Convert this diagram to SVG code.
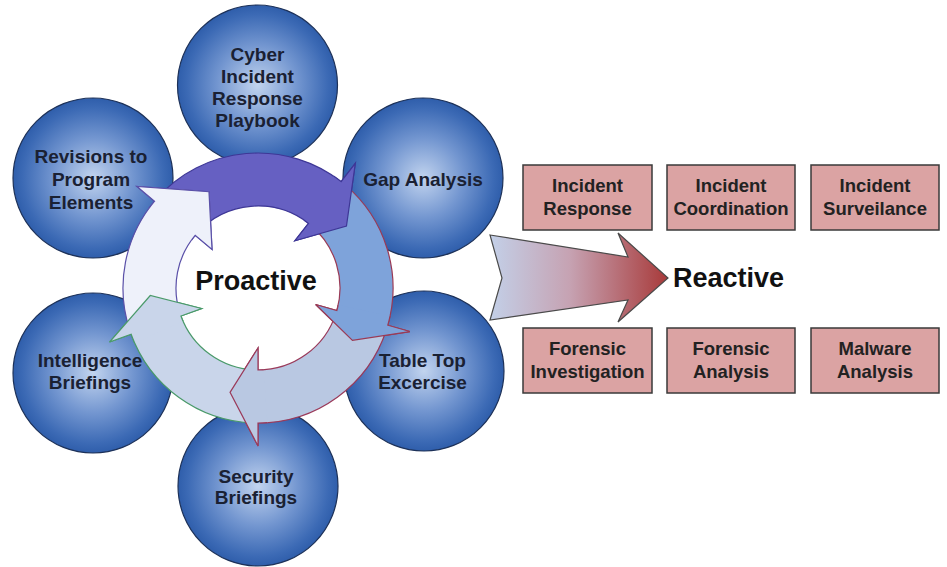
<svg xmlns="http://www.w3.org/2000/svg" width="947" height="567" viewBox="0 0 947 567">
  <defs>
    <radialGradient id="ball" cx="50%" cy="50%" r="50%">
      <stop offset="0" stop-color="#c2d4ef"/>
      <stop offset="0.5" stop-color="#7396d0"/>
      <stop offset="0.88" stop-color="#3c6ab5"/>
      <stop offset="1" stop-color="#2f5eab"/>
    </radialGradient>
    <linearGradient id="bigArrow" x1="490" y1="0" x2="668" y2="0" gradientUnits="userSpaceOnUse">
      <stop offset="0" stop-color="#c3d0e8"/>
      <stop offset="0.45" stop-color="#c6a2b2"/>
      <stop offset="1" stop-color="#a83a3a"/>
    </linearGradient>
    <style>
      .ball { fill: url(#ball); stroke: #1d3158; stroke-width: 1.2; }
      .lbl { font-family: "Liberation Sans", Arial, sans-serif; font-weight: bold; font-size: 19px; fill: #1a2133; text-anchor: middle; }
      .big { font-family: "Liberation Sans", Arial, sans-serif; font-weight: bold; font-size: 27px; fill: #111; }
      .box { fill: #dba3a3; stroke: #3a3a3a; stroke-width: 1.5; }
      .btxt { font-family: "Liberation Sans", Arial, sans-serif; font-weight: bold; font-size: 18.5px; fill: #222; text-anchor: middle; }
      .a1 { fill: #6660c2; stroke: #3e3796; stroke-width: 1.2; }
      .a2 { fill: #7ea3da; stroke: #9a3a55; stroke-width: 1.2; }
      .a3 { fill: #b9c8e2; stroke: #9a3a5a; stroke-width: 1.2; }
      .a4 { fill: #c9d5ea; stroke: #4a9a6a; stroke-width: 1.2; }
      .a5 { fill: #eef1fa; stroke: #5a50a8; stroke-width: 1.2; }
    </style>
  </defs>

  <rect width="947" height="567" fill="#ffffff"/>

  <!-- Proactive nodes -->
  <g id="node-playbook">
    <circle class="ball" cx="257.5" cy="85" r="80"/>
    <text class="lbl" x="257.5" y="61">Cyber</text>
    <text class="lbl" x="257.5" y="83">Incident</text>
    <text class="lbl" x="257.5" y="105">Response</text>
    <text class="lbl" x="257.5" y="127">Playbook</text>
  </g>
  <g id="node-gap">
    <circle class="ball" cx="423" cy="178" r="80"/>
    <text class="lbl" x="423" y="186">Gap Analysis</text>
  </g>
  <g id="node-tabletop">
    <circle class="ball" cx="424" cy="371" r="80"/>
    <text class="lbl" x="422.5" y="367">Table Top</text>
    <text class="lbl" x="422.5" y="389">Excercise</text>
  </g>
  <g id="node-security">
    <circle class="ball" cx="258" cy="486" r="80"/>
    <text class="lbl" x="256" y="483">Security</text>
    <text class="lbl" x="256" y="504">Briefings</text>
  </g>
  <g id="node-intelligence">
    <circle class="ball" cx="93" cy="373" r="80"/>
    <text class="lbl" x="90" y="367">Intelligence</text>
    <text class="lbl" x="90" y="389">Briefings</text>
  </g>
  <g id="node-revisions">
    <circle class="ball" cx="93" cy="178" r="80"/>
    <text class="lbl" x="91" y="163">Revisions to</text>
    <text class="lbl" x="91" y="186">Program</text>
    <text class="lbl" x="91" y="209">Elements</text>
  </g>

  <!-- Cycle ring of arrows -->
  <g id="connectors">
    <g id="cycle">
      <path class="a1" d="M157.68 197.67 A135 135 0 0 1 341.12 181.62 L355.28 163.5 L346.47 226.05 L294.94 240.72 L308.49 223.38 A82 82 0 0 0 197.07 233.13 Z"/>
      <path class="a2" d="M344.78 184.59 A135 135 0 0 1 387.78 325.21 L409.89 331.54 L352.46 340.36 L315.68 304.54 L336.83 310.6 A82 82 0 0 0 310.71 225.19 Z"/>
      <path class="a3" d="M386.4 329.72 A135 135 0 0 1 258 423 L258 446 L230.05 392.32 L258 348 L258 370 A82 82 0 0 0 335.99 313.34 Z"/>
      <path class="a4" d="M253.29 422.92 A135 135 0 0 1 131.14 334.17 L109.53 342.04 L150.26 295.54 L201.62 308.52 L180.94 316.04 A82 82 0 0 0 255.14 369.95 Z"/>
      <path class="a5" d="M129.6 329.72 A135 135 0 0 1 154.59 201.22 L136.97 186.44 L208.97 191.77 L212.04 249.43 L195.19 235.29 A82 82 0 0 0 180.01 313.34 Z"/>
      <!-- heads redrawn on top of the following arrow -->
      <path class="a1" d="M303.85 220.02 A82 82 0 0 1 308.49 223.38 L294.94 240.72 L346.47 226.05 L355.28 163.5 L341.12 181.62 A135 135 0 0 0 333.49 176.08"/>
      <path class="a2" d="M338.2 305.05 A82 82 0 0 1 336.83 310.6 L315.68 304.54 L352.46 340.36 L409.89 331.54 L387.78 325.21 A135 135 0 0 0 390.04 316.07"/>
      <path class="a3" d="M263.72 369.8 A82 82 0 0 1 258 370 L258 348 L230.05 392.32 L258 446 L258 423 A135 135 0 0 0 267.42 422.67"/>
      <path class="a4" d="M183.09 321.35 A82 82 0 0 1 180.94 316.04 L201.62 308.52 L150.26 295.54 L109.53 342.04 L131.14 334.17 A135 135 0 0 0 134.68 342.9"/>
      <path class="a5" d="M191.66 239.8 A82 82 0 0 1 195.19 235.29 L212.04 249.43 L208.97 191.77 L136.97 186.44 L154.59 201.22 A135 135 0 0 0 148.78 208.65"/>
    </g>
    <g id="transition-arrow">
      <path d="M490 235 L628 257 L618 233 L668 278 L618 322 L628 300 L490 320 L502 278 Z" fill="url(#bigArrow)" stroke="#4a4a4a" stroke-width="1.2"/>
    </g>
  </g>

  <g id="label-proactive">
    <text class="big" x="256" y="290" text-anchor="middle">Proactive</text>
  </g>
  <g id="label-reactive">
    <text class="big" x="673" y="287">Reactive</text>
  </g>

  <!-- Reactive boxes -->
  <g id="box-incident-response">
    <rect class="box" x="523" y="165" width="129" height="65"/>
    <text class="btxt" x="587.5" y="192">Incident</text>
    <text class="btxt" x="587.5" y="215">Response</text>
  </g>
  <g id="box-incident-coordination">
    <rect class="box" x="667" y="165" width="128" height="65"/>
    <text class="btxt" x="731" y="192">Incident</text>
    <text class="btxt" x="731" y="215">Coordination</text>
  </g>
  <g id="box-incident-surveilance">
    <rect class="box" x="811" y="165" width="128" height="65"/>
    <text class="btxt" x="875" y="192">Incident</text>
    <text class="btxt" x="875" y="215">Surveilance</text>
  </g>
  <g id="box-forensic-investigation">
    <rect class="box" x="523" y="328" width="129" height="65"/>
    <text class="btxt" x="587.5" y="355">Forensic</text>
    <text class="btxt" x="587.5" y="378">Investigation</text>
  </g>
  <g id="box-forensic-analysis">
    <rect class="box" x="667" y="328" width="128" height="65"/>
    <text class="btxt" x="731" y="355">Forensic</text>
    <text class="btxt" x="731" y="378">Analysis</text>
  </g>
  <g id="box-malware-analysis">
    <rect class="box" x="811" y="328" width="128" height="65"/>
    <text class="btxt" x="875" y="355">Malware</text>
    <text class="btxt" x="875" y="378">Analysis</text>
  </g>
</svg>
